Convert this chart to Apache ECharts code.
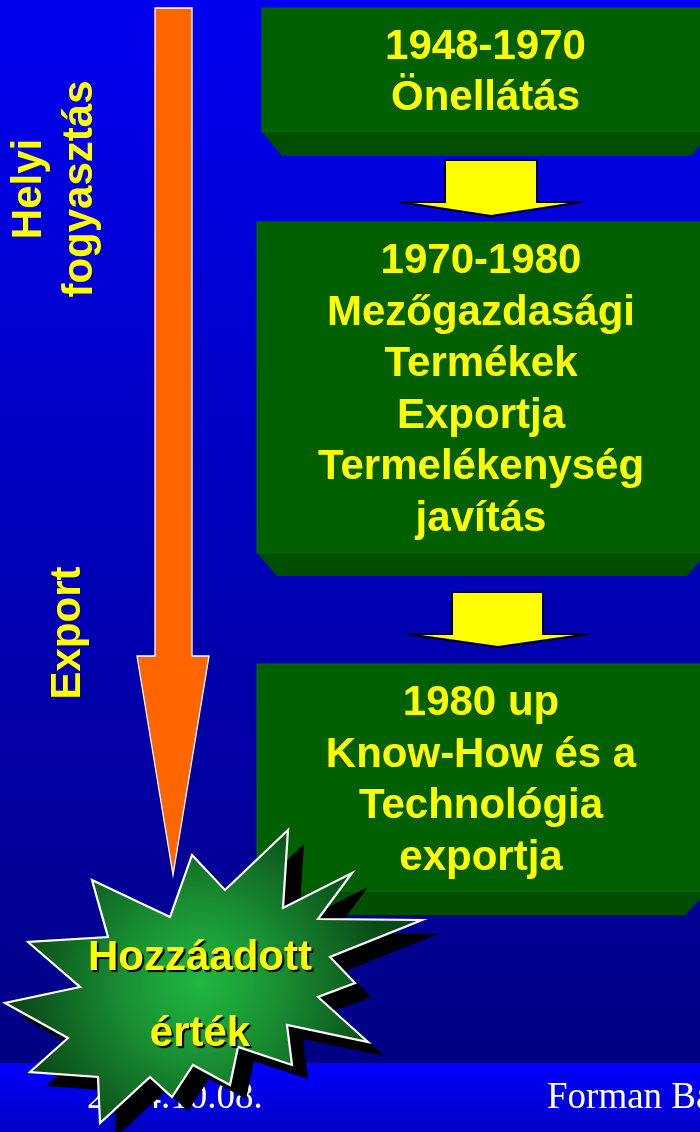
<!DOCTYPE html>
<html>
<head>
<meta charset="utf-8">
<script src="https://cdn.jsdelivr.net/npm/echarts@6/dist/echarts.min.js"></script>
<style>
html,body{margin:0;padding:0;background:#0000c0;}
#main{width:700px;height:1132px;}
</style>
</head>
<body>
<div id="main"></div>
<script>
// ---- content ----
const period1 = ['1948-1970', 'Önellátás'];
const period2 = ['1970-1980', 'Mezőgazdasági', 'Termékek', 'Exportja', 'Termelékenység', 'javítás'];
const period3 = ['1980 up', 'Know-How és a', 'Technológia', 'exportja'];
const sideTop = ['Helyi', 'fogyasztás'];
const sideBottom = ['Export'];
const starLabels = ['Hozzáadott', 'érték'];
const footerLabels = ['2004.10.08.', 'Forman Ba'];

// ---- layout (styling only) ----
const W = 700, H = 1132;
const chart = echarts.init(document.getElementById('main'), null, {renderer: 'canvas', width: W, height: H});
const FONT = '"Liberation Sans", Arial, sans-serif';
const YEL = '#ffff00';

function align(style, a, v) {
  style.align = a; style.textAlign = a;
  style.verticalAlign = v; style.textVerticalAlign = v;
  return style;
}

const boxes = [
  {x0: 262, x1: 711, y0: 8, y1: 132, y2: 156, inset: 20, lines: period1},
  {x0: 257, x1: 707, y0: 222, y1: 553, y2: 576, inset: 20, lines: period2},
  {x0: 257, x1: 707, y0: 664, y1: 892, y2: 915, inset: 22, lines: period3}
];
const arrows = [
  {sx0: 445, sx1: 537, top: 160, wy: 202, wx0: 400, wx1: 582, tip: 216, tx: 491},
  {sx0: 452, sx1: 543, top: 592, wy: 634, wx0: 407, wx1: 589, tip: 647, tx: 498}
];
const starPts = [
  [192,855],[225,890],[288,830],[283,908],[352,873],[318,919],[422,920],[330,957],
  [355,983],[318,997],[368,1042],[287,1025],[292,1065],[238,1047],[230,1085],[193,1065],
  [172,1097],[150,1077],[100,1123],[98,1077],[30,1072],[68,1038],[5,1003],[80,987],
  [28,942],[108,937],[92,880],[170,917]
];

const els = [];
// background
els.push({type: 'rect', shape: {x: 0, y: 0, width: W, height: 1063}, z: 0,
  style: {fill: new echarts.graphic.LinearGradient(0, 0, 0, 1, [
    {offset: 0, color: '#0000f0'}, {offset: 1, color: '#000084'}])}});
els.push({type: 'rect', shape: {x: 0, y: 1063, width: W, height: H - 1063}, z: 0,
  style: {fill: new echarts.graphic.LinearGradient(0, 0, 0, 1, [
    {offset: 0, color: '#0000ff'}, {offset: 1, color: '#0000c4'}])}});

// footer text
els.push({type: 'text', x: 87, y: 1098, z: 1,
  style: align({text: footerLabels[0], fill: '#ffffff', fontSize: 37, fontFamily: '"Liberation Serif", "Times New Roman", serif'}, 'left', 'middle')});
els.push({type: 'text', x: 547, y: 1098, z: 1,
  style: align({text: footerLabels[1], fill: '#ffffff', fontSize: 37, fontFamily: '"Liberation Serif", "Times New Roman", serif'}, 'left', 'middle')});

// boxes
boxes.forEach(b => {
  els.push({type: 'rect', shape: {x: b.x0, y: b.y0, width: b.x1 - b.x0, height: b.y1 - b.y0}, z: 2,
    style: {fill: '#006000', stroke: '#007000', lineWidth: 1}});
  els.push({type: 'polygon', z: 2,
    shape: {points: [[b.x0, b.y1], [b.x1, b.y1], [b.x1 - b.inset, b.y2], [b.x0 + b.inset, b.y2]]},
    style: {fill: '#004f00'}});
  const cx = (b.x0 + b.x1) / 2;
  const cy = (b.y0 + b.y1) / 2 + 3;
  els.push({type: 'text', x: cx - 1, y: cy, z: 3,
    style: align({text: b.lines.join('\n'), fill: YEL, fontSize: 42, fontWeight: 'bold',
      fontFamily: FONT, lineHeight: 51.5}, 'center', 'middle')});
});

// yellow arrows
arrows.forEach(a => {
  els.push({type: 'polygon', z: 4,
    shape: {points: [[a.sx0, a.top], [a.sx1, a.top], [a.sx1, a.wy], [a.wx1, a.wy], [a.tx, a.tip], [a.wx0, a.wy], [a.sx0, a.wy]]},
    style: {fill: YEL, stroke: '#000000', lineWidth: 2, lineJoin: 'miter'}});
});

// orange arrow
els.push({type: 'polygon', z: 4,
  shape: {points: [[155, 8], [192, 8], [192, 656], [209, 656], [173, 875], [137, 656], [155, 656]]},
  style: {fill: '#ff6600', stroke: '#ffffff', lineWidth: 1.3}});

// side labels (rotated)
els.push({type: 'text', x: 29, y: 189, rotation: Math.PI / 2, z: 5,
  style: align({text: sideTop[0], fill: YEL, fontSize: 42, fontWeight: 'bold', fontFamily: FONT}, 'center', 'middle')});
els.push({type: 'text', x: 80, y: 189, rotation: Math.PI / 2, z: 5,
  style: align({text: sideTop[1], fill: YEL, fontSize: 42, fontWeight: 'bold', fontFamily: FONT}, 'center', 'middle')});
els.push({type: 'text', x: 68, y: 633, rotation: Math.PI / 2, z: 5,
  style: align({text: sideBottom[0], fill: YEL, fontSize: 42, fontWeight: 'bold', fontFamily: FONT}, 'center', 'middle')});

// star shadow and star
els.push({type: 'polygon', z: 6, x: 16, y: 14, shape: {points: starPts}, style: {fill: '#000000'}});
els.push({type: 'polygon', z: 7, shape: {points: starPts},
  style: {fill: new echarts.graphic.RadialGradient(0.47, 0.52, 0.62, [
    {offset: 0, color: '#20b840'}, {offset: 0.4, color: '#1a9234'}, {offset: 1, color: '#0a4a18'}]),
    stroke: '#ffffff', lineWidth: 2.2, lineJoin: 'miter'}});
els.push({type: 'text', x: 200, y: 958, z: 8,
  style: align({text: starLabels[0], fill: YEL, fontSize: 42, fontWeight: 'bold', fontFamily: FONT,
    textShadowColor: '#000000', textShadowOffsetX: 2, textShadowOffsetY: 2, textShadowBlur: 1}, 'center', 'middle')});
els.push({type: 'text', x: 200, y: 1034, z: 8,
  style: align({text: starLabels[1], fill: YEL, fontSize: 42, fontWeight: 'bold', fontFamily: FONT,
    textShadowColor: '#000000', textShadowOffsetX: 2, textShadowOffsetY: 2, textShadowBlur: 1}, 'center', 'middle')});

chart.setOption({animation: false, graphic: {elements: els}});
</script>
</body>
</html>
